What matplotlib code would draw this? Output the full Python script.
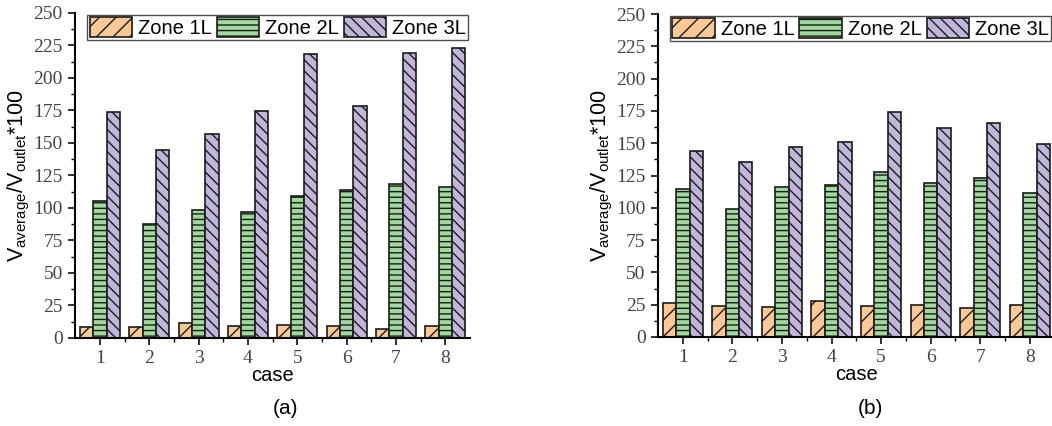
import matplotlib
matplotlib.use('Agg')
import matplotlib.pyplot as plt
import numpy as np

plt.rcParams['font.family'] = 'Liberation Sans'
plt.rcParams['mathtext.default'] = 'regular'
plt.rcParams['hatch.linewidth'] = 1.0

cases = [1, 2, 3, 4, 5, 6, 7, 8]
zones = ['Zone 1L', 'Zone 2L', 'Zone 3L']

# (a)
a_zone1 = [8, 8.4, 11.7, 8.9, 10.2, 9.2, 6.9, 8.9]
a_zone2 = [105.6, 87.8, 98, 96.7, 108.7, 114, 118.4, 116.3]
a_zone3 = [173.6, 144.4, 156.4, 174.6, 218.2, 178.2, 219.2, 223]

# (b)
b_zone1 = [26.5, 24.2, 23.2, 27.6, 24.2, 24.5, 22.2, 24.7]
b_zone2 = [114.5, 99.2, 116, 117.6, 127.7, 119.1, 123, 111.5]
b_zone3 = [144.1, 135.4, 146.7, 151.3, 174.4, 161.5, 165.9, 149.2]

COLORS = ['#FCC996', '#9FDA9C', '#C2B5DA']
HATCHES = ['//', '---', '\\\\\\']
W = 0.27

fig = plt.figure(figsize=(10.52, 4.26), dpi=100)


def draw(ax, series):
    x = np.array(cases)
    for i, (vals, c, h, name) in enumerate(zip(series, COLORS, HATCHES, zones)):
        ax.bar(x + (i - 1) * W, vals, W, color=c, hatch=h, edgecolor='#1a1a1a',
               linewidth=1.2, label=name)
    ax.set_xlim(0.5, 8.5)
    ax.set_ylim(0, 250)
    ax.set_yticks(np.arange(0, 251, 25))
    ax.set_yticks(np.arange(12.5, 250, 25), minor=True)
    ax.set_xticks(cases)
    ax.set_xticks(np.arange(1.5, 8.5, 1), minor=True)
    ax.set_xticklabels([str(c) for c in cases])
    for s in ['top', 'right']:
        ax.spines[s].set_visible(False)
    for s in ['left', 'bottom']:
        ax.spines[s].set_linewidth(1.5)
    ax.tick_params(which='major', direction='out', length=5, width=1.3,
                   labelsize=14, colors='#222222', pad=4)
    ax.tick_params(which='minor', direction='out', length=3, width=1.0)
    for lab in ax.get_xticklabels() + ax.get_yticklabels():
        lab.set_family('Liberation Serif')
        lab.set_color('#444444')
    ax.set_xlabel('case', fontsize=14.5, labelpad=-1)
    ax.set_ylabel('V$_{average}$/V$_{outlet}$*100', fontsize=15.5, labelpad=1)
    leg = ax.legend(ncol=3, loc='upper left', bbox_to_anchor=(0.025, 1.0),
                    fontsize=14.5, frameon=True, fancybox=False, edgecolor='#222222',
                    handlelength=2.1, handleheight=1.1, handletextpad=0.3,
                    columnspacing=0.25, borderpad=0.12, borderaxespad=0.1)
    leg.get_frame().set_linewidth(1.0)


ax1 = fig.add_axes([0.0716, 0.207, 0.375, 0.763])
draw(ax1, [a_zone1, a_zone2, a_zone3])
ax2 = fig.add_axes([0.6255, 0.209, 0.377, 0.758])
draw(ax2, [b_zone1, b_zone2, b_zone3])

fig.text(0.271, 0.04, '(a)', ha='center', va='center', fontsize=15)
fig.text(0.827, 0.04, '(b)', ha='center', va='center', fontsize=15)

fig.savefig('out.png', dpi=100, facecolor='white')
